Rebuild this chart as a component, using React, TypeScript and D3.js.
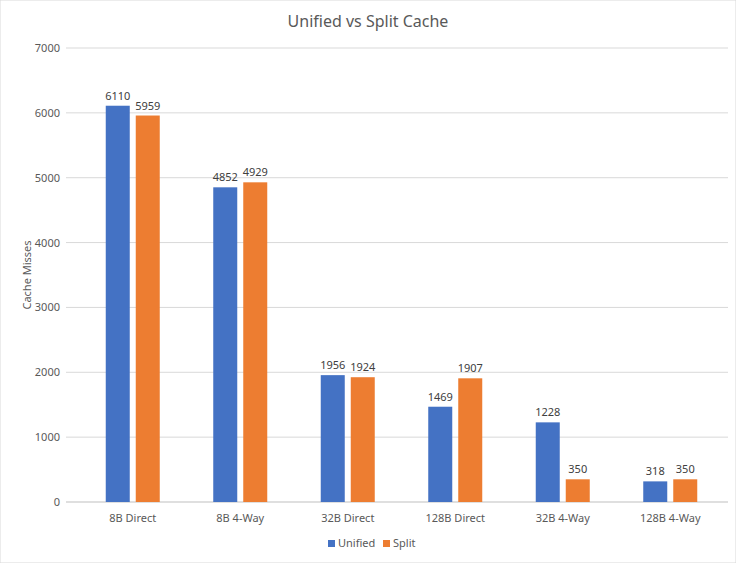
import React from 'react';
import * as d3 from 'd3';

const categories = ['8B Direct', '8B 4-Way', '32B Direct', '128B Direct', '32B 4-Way', '128B 4-Way'];
const unified = [6110, 4852, 1956, 1469, 1228, 318];
const split = [5959, 4929, 1924, 1907, 350, 350];
const yTicks = [0, 1000, 2000, 3000, 4000, 5000, 6000, 7000];

const W = 736, H = 563;
const font = 'Noto Sans, sans-serif';

export default function App() {
  const x = d3.scaleBand().domain(categories).range([79, 724]);
  const y = d3.scaleLinear().domain([0, 7000]).range([502, 48]);
  const bw = 24, gap = 6;
  const series = [
    { name: 'Unified', values: unified, color: '#4472C4', off: -gap / 2 - bw },
    { name: 'Split', values: split, color: '#ED7D31', off: gap / 2 },
  ];
  return (
    <svg width={W} height={H} style={{ position: 'absolute', left: 0, top: 0 }} fontFamily={font}>
      <rect width={W} height={H} fill="#fff" stroke="#d9d9d9" />
      <text x={W / 2} y={27} textAnchor="middle" fontSize={16} fill="#595959">Unified vs Split Cache</text>
      {yTicks.map(t => (
        <g key={t}>
          <line x1={66} x2={728} y1={y(t)} y2={y(t)} stroke={t === 0 ? '#bfbfbf' : '#d9d9d9'} />
          <text x={60} y={y(t) + 4} textAnchor="end" fontSize={11} fill="#595959">{t}</text>
        </g>
      ))}
      <text transform={`translate(31,${(48 + 502) / 2}) rotate(-90)`} textAnchor="middle" fontSize={11} fill="#595959">Cache Misses</text>
      {categories.map((c, i) => {
        const cx = (x(c) || 0) + x.bandwidth() / 2;
        return (
          <g key={c}>
            {series.map(s => (
              <g key={s.name}>
                <rect x={cx + s.off} y={y(s.values[i])} width={bw} height={502 - y(s.values[i])} fill={s.color} />
                <text x={cx + s.off + bw / 2} y={y(s.values[i]) - 6} textAnchor="middle" fontSize={11} fill="#404040">{s.values[i]}</text>
              </g>
            ))}
            <text x={cx} y={522} textAnchor="middle" fontSize={11} fill="#595959">{c}</text>
          </g>
        );
      })}
      {series.map((s, i) => (
        <g key={s.name} transform={`translate(${328 + i * 55},540)`}>
          <rect width={7} height={7} fill={s.color} />
          <text x={10} y={7} fontSize={11} fill="#595959">{s.name}</text>
        </g>
      ))}
    </svg>
  );
}
